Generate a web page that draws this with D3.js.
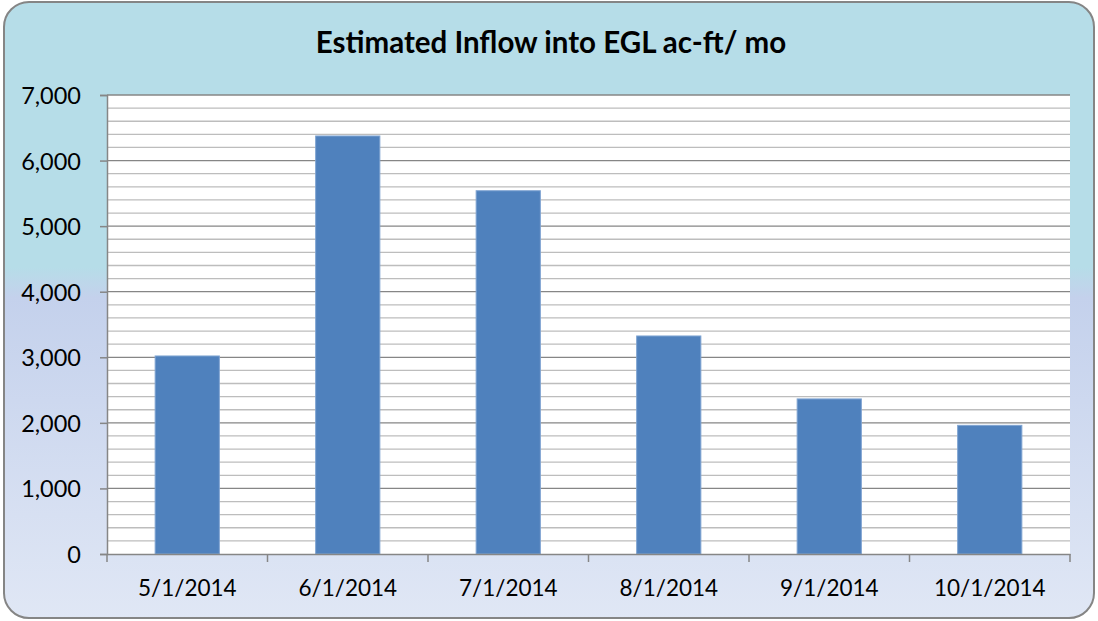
<!DOCTYPE html>
<html>
<meta charset="utf-8">
<style>
body { margin: 0; background: #fff; }
svg { display: block; }
.tick text { font-family: Lato, "Open Sans", sans-serif; font-size: 22.5px; fill: #000; }
</style>
<body>
<svg id="chart" width="1098" height="621"></svg>
<script src="https://d3js.org/d3.v7.min.js"></script>
<script>
// data
var months = ["5/1/2014", "6/1/2014", "7/1/2014", "8/1/2014", "9/1/2014", "10/1/2014"];
var inflow = [3020, 6375, 5540, 3325, 2365, 1962];
var yTicks = [0, 1000, 2000, 3000, 4000, 5000, 6000, 7000];
var title = "Estimated Inflow into EGL ac-ft/ mo";

var W = 1098, H = 621;
var margin = {top: 95, right: 28, bottom: 67, left: 107};
var width = W - margin.left - margin.right;
var height = H - margin.top - margin.bottom;

var svg = d3.select("#chart");

// background gradient
var grad = svg.append("defs").append("linearGradient")
	.attr("id", "bg")
	.attr("x1", 0).attr("y1", 0).attr("x2", 0).attr("y2", 1);
grad.append("stop").attr("offset", "0%").attr("stop-color", "#b6dde8");
grad.append("stop").attr("offset", "43%").attr("stop-color", "#b6dde8");
grad.append("stop").attr("offset", "48%").attr("stop-color", "#c4d1ec");
grad.append("stop").attr("offset", "100%").attr("stop-color", "#e0e7f5");

svg.append("rect")
	.attr("x", 4).attr("y", 2)
	.attr("width", 1090).attr("height", 616)
	.attr("rx", 25).attr("ry", 25)
	.attr("fill", "url(#bg)")
	.attr("stroke", "#858585")
	.attr("stroke-width", 2);

svg.append("text")
	.attr("x", 551)
	.attr("y", 53)
	.attr("text-anchor", "middle")
	.style("font-family", "Lato, 'Open Sans', sans-serif")
	.style("font-weight", "bold")
	.style("font-size", "29.5px")
	.text(title);

var g = svg.append("g")
	.attr("transform", "translate(" + margin.left + "," + margin.top + ")");

var x = d3.scaleBand()
	.domain(months)
	.range([0, width])
	.paddingInner(0.6)
	.paddingOuter(0.3);

var y = d3.scaleLinear()
	.domain([0, 7000])
	.range([height, 0]);

g.append("rect")
	.attr("width", width)
	.attr("height", height)
	.attr("fill", "#fff");

// minor gridlines every 200
g.selectAll(".minor")
	.data(d3.range(200, 7000, 200).filter(function(d) { return d % 1000 != 0; }))
	.enter().append("line")
	.attr("class", "minor")
	.attr("x1", 0).attr("x2", width)
	.attr("y1", function(d) { return y(d); })
	.attr("y2", function(d) { return y(d); })
	.attr("stroke", "#bdbdbd")
	.attr("stroke-width", 1.3);

// major gridlines
g.selectAll(".major")
	.data(yTicks.slice(1))
	.enter().append("line")
	.attr("class", "major")
	.attr("x1", 0).attr("x2", width)
	.attr("y1", function(d) { return y(d); })
	.attr("y2", function(d) { return y(d); })
	.attr("stroke", "#868686")
	.attr("stroke-width", 1.3);

g.selectAll(".bar")
	.data(inflow)
	.enter().append("rect")
	.attr("class", "bar")
	.attr("x", function(d, i) { return x(months[i]); })
	.attr("y", function(d) { return y(d); })
	.attr("width", x.bandwidth())
	.attr("height", function(d) { return height - y(d); })
	.attr("fill", "#4f81bd")
	.attr("stroke", "#7fa4d2")
	.attr("stroke-width", 1);

// y axis
var yAxis = g.append("g")
	.call(d3.axisLeft(y).tickValues(yTicks).tickSize(7).tickPadding(19).tickFormat(d3.format(",")));
yAxis.select(".domain").attr("stroke", "#868686").attr("stroke-width", 1.5);
yAxis.selectAll(".tick line").attr("stroke", "#868686").attr("stroke-width", 1.5);
yAxis.selectAll(".tick text").attr("dy", "0.36em").style("font-size", "23.5px");

// x axis: ticks at category boundaries
var xAxis = g.append("g")
	.attr("transform", "translate(0," + height + ")")
	.call(d3.axisBottom(x).tickSize(0).tickPadding(26));
xAxis.select(".domain").attr("stroke", "#868686").attr("stroke-width", 1.5);

xAxis.selectAll(".bound")
	.data(d3.range(months.length + 1))
	.enter().append("line")
	.attr("class", "bound")
	.attr("x1", function(i) { return i * width / months.length; })
	.attr("x2", function(i) { return i * width / months.length; })
	.attr("y1", 0).attr("y2", 8)
	.attr("stroke", "#868686")
	.attr("stroke-width", 1.5);
</script>
</body>
</html>
